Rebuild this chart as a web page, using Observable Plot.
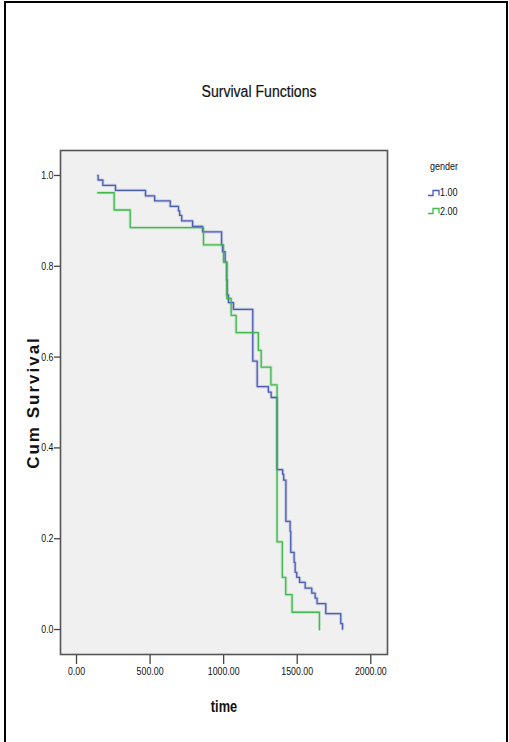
<!DOCTYPE html>
<html>
<head>
<meta charset="utf-8">
<script src="https://cdn.jsdelivr.net/npm/d3@7"></script>
<script src="https://cdn.jsdelivr.net/npm/@observablehq/plot@0.6"></script>
<style>
  html, body { margin: 0; padding: 0; background: #fff; }
  #page { position: relative; width: 509px; height: 742px; overflow: hidden; background: #fff;
          font-family: "Liberation Sans", Arial, sans-serif; }
  #border { position: absolute; left: 4px; top: 1px; width: 504px; height: 800px; border: 2px solid #000; box-sizing: border-box; }
  #title { position: absolute; left: 259px; top: 83px; transform: translateX(-50%) scaleX(0.88); font-size: 16px; color: #111; white-space: nowrap; -webkit-text-stroke: 0.2px #111; }
  #chart { position: absolute; left: 0; top: 140px; }
  #legend { position: absolute; left: 420px; top: 158px; font-size: 11px; color: #111; }
  .lg-title { position: absolute; left: 24px; top: 2px; transform: translateX(-50%) scaleX(0.82); white-space: nowrap; }
  .lg-item { position: absolute; left: 8px; white-space: nowrap; display: flex; align-items: center; }
  .lg-item span { display: inline-block; transform: scaleX(0.82); transform-origin: left center; }
</style>
</head>
<body>
<div id="page">
  <div id="border"></div>
  <div id="title">Survival Functions</div>
  <div id="chart"></div>
  <div id="legend"></div>
</div>
<script>
// Gender 1.00 (blue) Kaplan-Meier steps: time and cumulative survival after each step
const blueTime = [145, 147, 179, 265, 469, 531, 637, 693, 701, 715, 789, 857, 986, 993, 1010, 1020, 1024, 1033, 1067, 1198, 1228, 1304, 1323, 1363, 1401, 1408, 1423, 1452, 1456, 1479, 1486, 1497, 1516, 1554, 1599, 1622, 1635, 1694, 1796, 1808];
const blueSurv = [1.0, 0.990, 0.978, 0.967, 0.955, 0.944, 0.932, 0.922, 0.912, 0.900, 0.888, 0.876, 0.847, 0.832, 0.809, 0.770, 0.737, 0.720, 0.705, 0.591, 0.535, 0.523, 0.511, 0.352, 0.342, 0.329, 0.238, 0.216, 0.170, 0.148, 0.126, 0.115, 0.104, 0.091, 0.080, 0.069, 0.057, 0.035, 0.013, 0.001];
// Gender 2.00 (green)
const greenTime = [145, 256, 365, 863, 999, 1022, 1051, 1085, 1236, 1255, 1321, 1363, 1399, 1422, 1465, 1651];
const greenSurv = [0.962, 0.924, 0.885, 0.847, 0.809, 0.729, 0.692, 0.654, 0.615, 0.578, 0.539, 0.193, 0.115, 0.077, 0.038, 0.0];

const groups = ["1.00", "2.00"];
const groupColors = ["#4a5db3", "#3fb94c"];
const xTicks = [0, 500, 1000, 1500, 2000];
const yTicks = [0, 0.2, 0.4, 0.6, 0.8, 1.0];

const rows = [
  ...blueTime.map((t, i) => ({time: t, surv: blueSurv[i], gender: groups[0]})),
  ...greenTime.map((t, i) => ({time: t, surv: greenSurv[i], gender: groups[1]}))
];

const font = "'Liberation Sans', Arial, sans-serif";

const chart = Plot.plot({
  width: 509,
  height: 602,
  marginTop: 10,
  marginLeft: 60,
  marginRight: 122,
  marginBottom: 88,
  style: {fontFamily: font, fontSize: "11px", background: "transparent", color: "#111"},
  x: {domain: [-108.8, 2113.6]},
  y: {domain: [-0.055, 1.055]},
  color: {domain: groups, range: groupColors},
  marks: [
    Plot.frame({fill: "#f0f0f0", stroke: null}),
    Plot.axisX({ticks: xTicks, tickFormat: d => d.toFixed(2), tickSize: 10, tickPadding: 3, label: null, stroke: "#444", strokeWidth: 1.3, className: "xax"}),
    Plot.axisY({ticks: yTicks, tickFormat: d => d.toFixed(1), tickSize: 6, tickPadding: 1, label: null, stroke: "#444", strokeWidth: 1.3, className: "yax"}),
    Plot.line(rows, {x: "time", y: "surv", z: "gender", stroke: "gender", curve: "step-after", strokeWidth: 3.2, strokeOpacity: 0.22}),
    Plot.line(rows, {x: "time", y: "surv", z: "gender", stroke: "gender", curve: "step-after", strokeWidth: 1.3}),
    Plot.frame({stroke: "#555", strokeWidth: 1.6}),
    Plot.text(["Cum Survival"], {text: d => d, frameAnchor: "left", textAnchor: "middle", dx: -27, rotate: -90, fontSize: 17, fontWeight: "bold", fill: "#111", className: "ylab"}),
    Plot.text(["time"], {text: d => d, frameAnchor: "bottom", dy: 57, fontSize: 16, fontWeight: "bold", fill: "#111", className: "xlab"})
  ]
});
document.getElementById("chart").appendChild(chart);

// narrow (Arial Narrow-like) tick labels and x label, via textLength (no transforms touched)
chart.querySelectorAll("g.xax text, g.yax text, g.xlab text").forEach(t => {
  const w = t.getComputedTextLength();
  if (w > 0) {
    t.setAttribute("textLength", (w * 0.8).toFixed(2));
    t.setAttribute("lengthAdjust", "spacingAndGlyphs");
  }
});
chart.querySelectorAll("g.ylab text").forEach(t => t.setAttribute("letter-spacing", "2"));

// Legend
const legend = document.getElementById("legend");
const lt = document.createElement("div");
lt.className = "lg-title";
lt.textContent = "gender";
legend.appendChild(lt);
groups.forEach((g, i) => {
  const item = document.createElement("div");
  item.className = "lg-item";
  item.style.top = (28 + i * 18.5) + "px";
  item.innerHTML = `<svg width="12" height="9"><path d="M0,7.5H5V2.5H11V7.5" fill="none" stroke="${groupColors[i]}" stroke-width="1.3"/></svg><span>${g}</span>`;
  legend.appendChild(item);
});
</script>
</body>
</html>
